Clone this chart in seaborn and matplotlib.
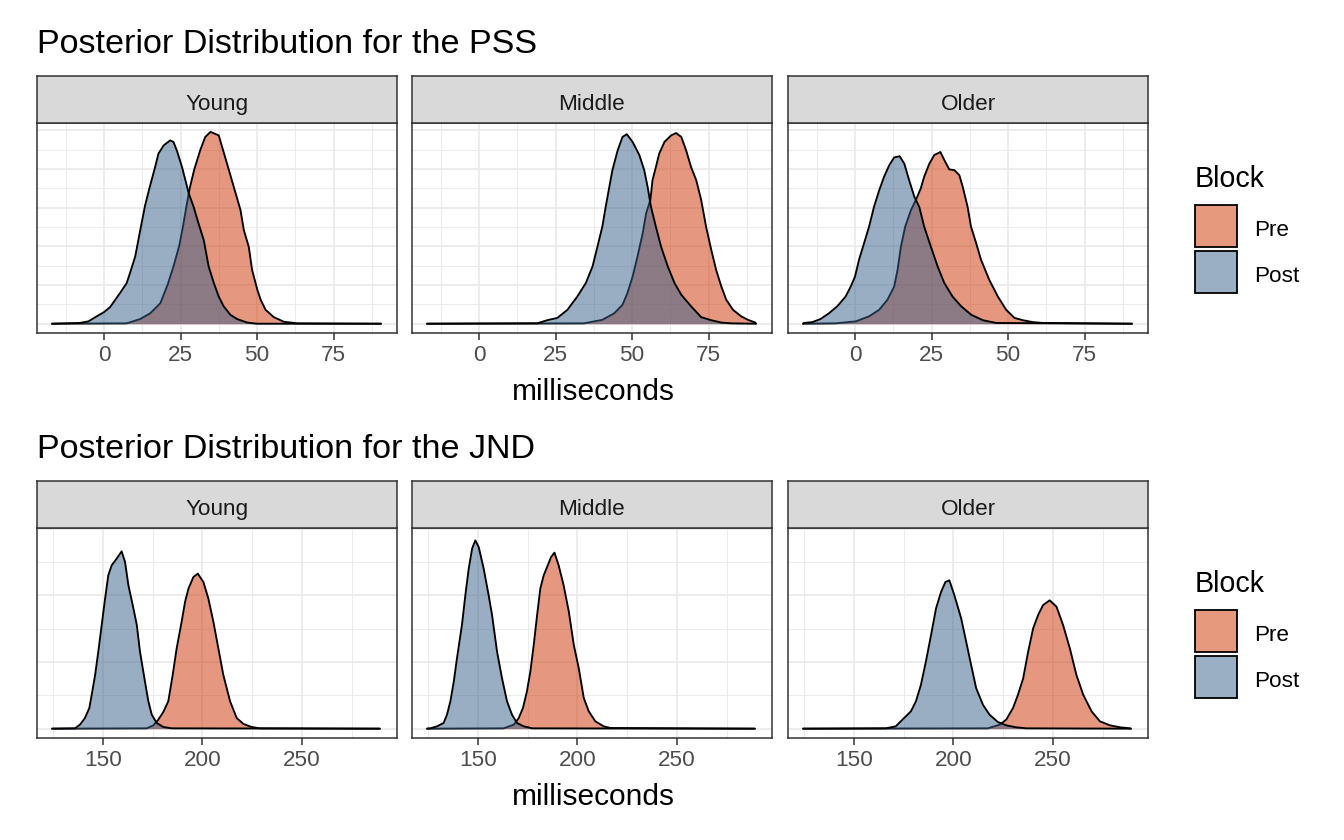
import numpy as np
import pandas as pd
import matplotlib
matplotlib.use("Agg")
import matplotlib.pyplot as plt
import seaborn as sns
from matplotlib.patches import Rectangle
from matplotlib.ticker import MultipleLocator, FixedLocator

# ---------------- data ----------------
groups = ["Young", "Middle", "Older"]
blocks = ["Pre", "Post"]
pss_ticks = [0, 25, 50, 75]
jnd_ticks = [150, 200, 250]
titles = ["Posterior Distribution for the PSS", "Posterior Distribution for the JND"]
x_label = "milliseconds"
legend_title = "Block"

# PSS - Young
pss_young_pre_x = [-17, 7.4, 11.8, 15.1, 18.4, 20.8, 22.7, 24.6, 25.8, 26.9, 28.0, 29.5, 31.5, 33.1, 34.8,
                   37.5, 38.6, 40.2, 42.4, 44.6, 45.7, 47.3, 48.4, 50.1, 51.2, 52.8, 55.5, 58.8, 63.2, 90.5]
pss_young_pre_y = [0, 0.0001, 0.0012, 0.0027, 0.0053, 0.0101, 0.0148, 0.0202, 0.0251, 0.0302, 0.0350, 0.0399,
                   0.0450, 0.0483, 0.0496, 0.0487, 0.0457, 0.0414, 0.0354, 0.0294, 0.0242, 0.0199, 0.0139,
                   0.0088, 0.0062, 0.0036, 0.0017, 0.0005, 0.0001, 0]
pss_young_post_x = [-17, -7.9, -5.1, -2.4, 0, 2.0, 5.2, 7.4, 8.5, 10.2, 11.8, 13.4, 15.1, 16.7, 17.8, 19.5,
                    21.6, 22.7, 23.8, 25.5, 26.6, 27.7, 29.3, 30.9, 32.6, 34.2, 35.9, 37.5, 39.1, 41.3, 43.5,
                    46.8, 50.0, 90.5]
pss_young_post_y = [0, 0.0002, 0.0006, 0.0019, 0.0030, 0.0043, 0.0079, 0.0105, 0.0131, 0.0174, 0.0240,
                    0.0305, 0.0358, 0.0405, 0.0440, 0.0461, 0.0474, 0.0470, 0.0448, 0.0405, 0.0371, 0.0337,
                    0.0302, 0.0259, 0.0216, 0.0148, 0.0105, 0.0070, 0.0045, 0.0023, 0.0012, 0.0003, 0, 0]

# PSS - Middle
pss_middle_pre_x = [-17, 34.3, 40.3, 44.2, 46.9, 48.5, 50.2, 51.8, 53.5, 54.6, 56.0, 56.7, 57.8, 58.9, 60.6,
                    62.8, 64.4, 66.1, 67.7, 69.3, 71.0, 72.6, 74.2, 75.9, 77.5, 79.2, 80.8, 83.0, 85.7,
                    87.9, 90.3, 90.5]
pss_middle_pre_y = [0, 0.0001, 0.0010, 0.0027, 0.0049, 0.0079, 0.0122, 0.0174, 0.0234, 0.0285, 0.0320,
                    0.0371, 0.0405, 0.0440, 0.0470, 0.0487, 0.0493, 0.0483, 0.0448, 0.0405, 0.0371, 0.0320,
                    0.0251, 0.0191, 0.0139, 0.0096, 0.0062, 0.0036, 0.0019, 0.0010, 0.0003, 0]
pss_middle_post_x = [-17, 19.0, 22.3, 25.6, 28.9, 32.1, 34.9, 37.1, 38.7, 40.3, 41.4, 42.5, 43.6, 45.3,
                     46.9, 48.3, 50.2, 52.4, 54.0, 55.1, 56.2, 57.8, 59.5, 61.7, 63.9, 66.1, 69.3, 72.6,
                     75.9, 79.2, 82.4, 90.5]
pss_middle_post_y = [0, 0.0001, 0.0009, 0.0015, 0.0036, 0.0070, 0.0105, 0.0148, 0.0199, 0.0251, 0.0302,
                     0.0350, 0.0397, 0.0448, 0.0483, 0.0490, 0.0470, 0.0436, 0.0397, 0.0354, 0.0302,
                     0.0251, 0.0199, 0.0148, 0.0105, 0.0075, 0.0045, 0.0017, 0.0009, 0.0003, 0.0001, 0]

# PSS - Older
pss_older_pre_x = [-17, -6.3, 0.2, 4.6, 7.9, 10.6, 12.8, 13.9, 15.0, 16.4, 18.3, 19.9, 21.5, 22.6, 24.3,
                   25.9, 27.9, 29.2, 30.8, 32.5, 34.1, 35.2, 36.8, 37.9, 39.6, 41.2, 43.9, 46.7, 49.4,
                   52.1, 54.9, 58.2, 61.4, 90.5]
pss_older_pre_y = [0, 0.0001, 0.0006, 0.0019, 0.0036, 0.0062, 0.0096, 0.0139, 0.0199, 0.0251, 0.0294,
                   0.0320, 0.0350, 0.0380, 0.0414, 0.0436, 0.0444, 0.0423, 0.0399, 0.0397, 0.0384, 0.0354,
                   0.0302, 0.0251, 0.0208, 0.0165, 0.0113, 0.0070, 0.0036, 0.0015, 0.0009, 0.0004,
                   0.0002, 0]
pss_older_post_x = [-17, -16.7, -14.0, -11.3, -8.5, -5.8, -3.1, -1.4, 0, 1.3, 2.95, 4.6, 6.2, 7.9, 9.5,
                    11.2, 12.8, 14.6, 16.1, 17.7, 19.4, 21.0, 22.6, 24.8, 27.0, 29.2, 31.9, 34.7, 38.0,
                    41.8, 46.1, 90.5]
pss_older_post_y = [0, 0.0002, 0.0004, 0.0012, 0.0027, 0.0045, 0.0070, 0.0096, 0.0122, 0.0165, 0.0208,
                    0.0251, 0.0302, 0.0345, 0.0380, 0.0410, 0.0430, 0.0433, 0.0414, 0.0371, 0.0328,
                    0.0302, 0.0251, 0.0199, 0.0148, 0.0105, 0.0070, 0.0045, 0.0023, 0.0009, 0.0002, 0]

# JND - Young
jnd_young_pre_x = [124.6, 172.1, 175.4, 177.9, 180.4, 182.9, 185.1, 187.1, 189.6, 191.3, 193.0, 195.5,
                   197.7, 200.5, 203.0, 205.5, 208.0, 210.5, 213.9, 217.2, 220.6, 224.7, 228.9, 289.0]
jnd_young_pre_y = [0, 0.0001, 0.0010, 0.0027, 0.0050, 0.0082, 0.0161, 0.0241, 0.0321, 0.0380, 0.0420,
                   0.0455, 0.0465, 0.0440, 0.0390, 0.0321, 0.0241, 0.0161, 0.0082, 0.0032, 0.0014,
                   0.0005, 0.0001, 0]
jnd_young_post_x = [124.6, 136.1, 138.6, 141.1, 143.3, 144.5, 146.2, 147.8, 149.5, 151.2, 152.8, 154.5,
                    157.0, 159.5, 161.2, 162.9, 165.4, 167.1, 168.7, 171.2, 172.9, 174.6, 177.1, 180.4,
                    184.6, 289.0]
jnd_young_post_y = [0, 0.0001, 0.0012, 0.0032, 0.0062, 0.0102, 0.0161, 0.0231, 0.0311, 0.0390, 0.0460,
                    0.0490, 0.0510, 0.0532, 0.0500, 0.0430, 0.0361, 0.0311, 0.0231, 0.0141, 0.0082,
                    0.0042, 0.0017, 0.0005, 0.0001, 0]

# JND - Middle
jnd_middle_pre_x = [124.6, 163.0, 168.1, 170.6, 172.7, 174.7, 176.4, 178.1, 179.8, 181.4, 183.1, 184.8,
                    186.8, 188.5, 190.6, 193.1, 195.7, 198.2, 200.7, 203.2, 205.7, 209.0, 213.2, 216.6,
                    289.0]
jnd_middle_pre_y = [0, 0.0001, 0.0012, 0.0032, 0.0062, 0.0112, 0.0171, 0.0251, 0.0341, 0.0420, 0.0460,
                    0.0485, 0.0515, 0.0528, 0.0490, 0.0430, 0.0351, 0.0251, 0.0181, 0.0092, 0.0052,
                    0.0022, 0.0007, 0.0002, 0]
jnd_middle_post_x = [124.6, 126.3, 129.6, 132.9, 134.6, 136.3, 138.0, 139.6, 142.1, 143.8, 145.5, 147.2,
                     148.8, 150.5, 153.0, 155.5, 157.2, 159.7, 162.2, 164.7, 167.2, 169.7, 173.1, 177.3,
                     289.0]
jnd_middle_post_y = [0, 0.0001, 0.0007, 0.0017, 0.0042, 0.0082, 0.0141, 0.0211, 0.0311, 0.0400, 0.0480,
                     0.0540, 0.0565, 0.0545, 0.0480, 0.0400, 0.0341, 0.0231, 0.0151, 0.0082, 0.0042,
                     0.0017, 0.0007, 0.0001, 0]

# JND - Older
jnd_older_pre_x = [124.6, 217.3, 223.2, 226.5, 229.9, 232.4, 235.0, 237.5, 240.0, 242.5, 245.0, 248.3,
                   251.7, 255.0, 258.4, 261.7, 265.1, 269.3, 273.5, 278.5, 283.6, 288.6, 289.0]
jnd_older_pre_y = [0, 0.0001, 0.0012, 0.0027, 0.0062, 0.0102, 0.0151, 0.0231, 0.0301, 0.0341, 0.0371,
                   0.0385, 0.0366, 0.0311, 0.0241, 0.0161, 0.0102, 0.0052, 0.0022, 0.0010, 0.0004,
                   0.0001, 0]
jnd_older_post_x = [124.6, 166.1, 171.1, 175.3, 178.7, 181.2, 183.7, 186.2, 188.8, 191.3, 193.8, 196.0,
                    198.0, 200.5, 203.9, 206.4, 208.9, 211.4, 214.8, 218.1, 222.3, 226.5, 231.5, 236.6,
                    289.0]
jnd_older_post_y = [0, 0.0001, 0.0007, 0.0032, 0.0052, 0.0082, 0.0131, 0.0201, 0.0281, 0.0361, 0.0410,
                    0.0440, 0.0445, 0.0400, 0.0331, 0.0261, 0.0191, 0.0122, 0.0072, 0.0042, 0.0020,
                    0.0010, 0.0004, 0.0001, 0]

curves = {
    ("PSS", "Young", "Pre"): (pss_young_pre_x, pss_young_pre_y),
    ("PSS", "Young", "Post"): (pss_young_post_x, pss_young_post_y),
    ("PSS", "Middle", "Pre"): (pss_middle_pre_x, pss_middle_pre_y),
    ("PSS", "Middle", "Post"): (pss_middle_post_x, pss_middle_post_y),
    ("PSS", "Older", "Pre"): (pss_older_pre_x, pss_older_pre_y),
    ("PSS", "Older", "Post"): (pss_older_post_x, pss_older_post_y),
    ("JND", "Young", "Pre"): (jnd_young_pre_x, jnd_young_pre_y),
    ("JND", "Young", "Post"): (jnd_young_post_x, jnd_young_post_y),
    ("JND", "Middle", "Pre"): (jnd_middle_pre_x, jnd_middle_pre_y),
    ("JND", "Middle", "Post"): (jnd_middle_post_x, jnd_middle_post_y),
    ("JND", "Older", "Pre"): (jnd_older_pre_x, jnd_older_pre_y),
    ("JND", "Older", "Post"): (jnd_older_post_x, jnd_older_post_y),
}

rows = []
for (measure, grp, blk), (xs, ys) in curves.items():
    for xv, yv in zip(xs, ys):
        rows.append({"measure": measure, "group": grp, "Block": blk, "ms": xv, "density": yv})
df = pd.DataFrame(rows)

# ---------------- style ----------------
sns.set_theme(style="white")
plt.rcParams["font.family"] = ["Liberation Sans", "DejaVu Sans"]

W, H = 1344, 840
fig = plt.figure(figsize=(W / 100, H / 100), dpi=100)
fig.patch.set_facecolor("white")

def box(l, t, r, b):
    return [l / W, 1 - b / H, (r - l) / W, (b - t) / H]

fill_colors = {"Pre": "#CD3300", "Post": "#355F89"}
alpha = 0.5
legend_fill = {"Pre": "#E6997C", "Post": "#9AAFC4"}
border_col = "#333333"

panel_x = [(37, 397), (412, 772), (788, 1148)]
row_specs = [
    # measure, title_y, strip_top, panel_top, panel_bottom, xlim, ylim, xmajor, xminor, ymajor, yminor
    ("PSS", 53, 76, 123, 333, (-21.9, 95.75), (-0.0024, 0.0519), pss_ticks, 12.5, 0.01, 0.005),
    ("JND", 458, 481, 528, 738, (117.05, 297.6), (-0.0028, 0.0602), jnd_ticks, 25, 0.02, 0.01),
]

for ri, (measure, title_y, s_top, p_top, p_bot, xlim, ylim, xmaj, xmin_step, ymaj, ymin_step) in enumerate(row_specs):
    fig.text(37 / W, 1 - title_y / H, titles[ri], ha="left", va="baseline",
             fontsize=24.6, color="black")
    for gi, grp in enumerate(groups):
        l, r = panel_x[gi]
        ax = fig.add_axes(box(l, p_top, r, p_bot))
        ax.set_facecolor("white")
        for blk, zb in (("Pre", 2), ("Post", 4)):
            sub = df[(df.measure == measure) & (df.group == grp) & (df.Block == blk)]
            ax.fill_between(sub["ms"].to_numpy(), 0, sub["density"].to_numpy(),
                            color=fill_colors[blk], alpha=alpha, lw=0, zorder=zb)
            sns.lineplot(data=sub, x="ms", y="density", color="black", lw=1.35,
                         estimator=None, sort=False, ax=ax, zorder=zb + 1, legend=False)
        ax.set_xlim(*xlim)
        ax.set_ylim(*ylim)
        ax.xaxis.set_major_locator(FixedLocator(xmaj))
        ax.xaxis.set_minor_locator(MultipleLocator(xmin_step))
        ax.yaxis.set_major_locator(MultipleLocator(ymaj))
        ax.yaxis.set_minor_locator(MultipleLocator(ymin_step))
        ax.grid(True, which="major", color="#EBEBEB", lw=1.3)
        ax.grid(True, which="minor", color="#EBEBEB", lw=0.7)
        ax.set_axisbelow(True)
        ax.tick_params(axis="y", which="both", left=False, labelleft=False)
        ax.tick_params(axis="x", which="major", bottom=True, length=5, width=1.1,
                       color=border_col, labelsize=16.2, labelcolor="#4D4D4D", pad=3.4)
        ax.tick_params(axis="x", which="minor", bottom=False, length=0)
        ax.set_xlabel("")
        ax.set_ylabel("")
        for sp in ax.spines.values():
            sp.set_visible(True)
            sp.set_color(border_col)
            sp.set_linewidth(1.1)
        # strip
        sax = fig.add_axes(box(l, s_top, r, p_top))
        sax.set_facecolor("#D9D9D9")
        sax.set_xticks([])
        sax.set_yticks([])
        for sp in sax.spines.values():
            sp.set_visible(True)
            sp.set_color(border_col)
            sp.set_linewidth(1.1)
        sax.text(0.5, 1 - 34 / 47, grp, transform=sax.transAxes, ha="center", va="baseline",
                 fontsize=16.2, color="#1A1A1A")
    # x-axis title
    fig.text(593 / W, 1 - (p_bot + 67) / H, x_label, ha="center", va="baseline",
             fontsize=21.5, color="black")
    # legend
    off = 405 * ri
    fig.text(1195 / W, 1 - (187 + off) / H, legend_title, ha="left", va="baseline",
             fontsize=20.6, color="black")
    for ki, blk in enumerate(blocks):
        top = 205 + off + ki * 46
        fig.patches.append(Rectangle((1195 / W, 1 - (top + 42) / H), 42 / W, 42 / H,
                                     transform=fig.transFigure, facecolor=legend_fill[blk],
                                     edgecolor="black", lw=1.3))
        fig.text(1254 / W, 1 - (top + 31) / H, blk, ha="left", va="baseline",
                 fontsize=16.2, color="black")

fig.savefig("out.png", dpi=100)
